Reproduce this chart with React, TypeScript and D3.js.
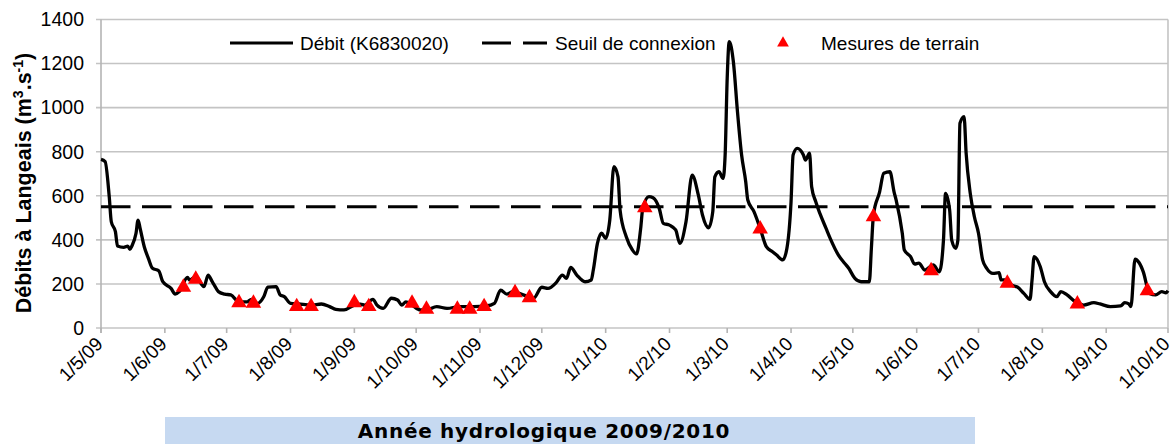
import React, { useEffect, useRef } from 'react';
import * as d3 from 'd3';

// daily discharge at Langeais
const flowDates = [
  '2009-05-01', '2009-05-03', '2009-05-05', '2009-05-06', '2009-05-08', '2009-05-09', '2009-05-12', '2009-05-14',
  '2009-05-15', '2009-05-16', '2009-05-18', '2009-05-19', '2009-05-20', '2009-05-22', '2009-05-24', '2009-05-26',
  '2009-05-29', '2009-05-31', '2009-06-04', '2009-06-06', '2009-06-08', '2009-06-12', '2009-06-13', '2009-06-16',
  '2009-06-20', '2009-06-22', '2009-06-24', '2009-06-25', '2009-06-27', '2009-06-30', '2009-07-03', '2009-07-07',
  '2009-07-11', '2009-07-13', '2009-07-16', '2009-07-19', '2009-07-21', '2009-07-25', '2009-07-27', '2009-07-29',
  '2009-08-01', '2009-08-05', '2009-08-11', '2009-08-16', '2009-08-20', '2009-08-23', '2009-08-27', '2009-09-01',
  '2009-09-04', '2009-09-06', '2009-09-10', '2009-09-12', '2009-09-15', '2009-09-19', '2009-09-22', '2009-09-24',
  '2009-09-26', '2009-09-29', '2009-10-03', '2009-10-06', '2009-10-11', '2009-10-16', '2009-10-22', '2009-10-29',
  '2009-11-04', '2009-11-08', '2009-11-11', '2009-11-14', '2009-11-17', '2009-11-22', '2009-11-27', '2009-12-01',
  '2009-12-04', '2009-12-08', '2009-12-11', '2009-12-13', '2009-12-15', '2009-12-18', '2009-12-22', '2009-12-25',
  '2009-12-26', '2009-12-28', '2009-12-30', '2010-01-01', '2010-01-03', '2010-01-05', '2010-01-07', '2010-01-08',
  '2010-01-11', '2010-01-14', '2010-01-16', '2010-01-18', '2010-01-19', '2010-01-22', '2010-01-24', '2010-01-27',
  '2010-01-29', '2010-02-01', '2010-02-04', '2010-02-06', '2010-02-09', '2010-02-12', '2010-02-15', '2010-02-17',
  '2010-02-20', '2010-02-22', '2010-02-23', '2010-02-25', '2010-02-27', '2010-02-28', '2010-03-01', '2010-03-02',
  '2010-03-04', '2010-03-06', '2010-03-08', '2010-03-10', '2010-03-11', '2010-03-14', '2010-03-17', '2010-03-20',
  '2010-03-23', '2010-03-25', '2010-03-28', '2010-03-30', '2010-04-01', '2010-04-02', '2010-04-04', '2010-04-07',
  '2010-04-08', '2010-04-10', '2010-04-11', '2010-04-13', '2010-04-15', '2010-04-18', '2010-04-20', '2010-04-24',
  '2010-04-27', '2010-04-29', '2010-05-02', '2010-05-05', '2010-05-09', '2010-05-10', '2010-05-11', '2010-05-14',
  '2010-05-16', '2010-05-19', '2010-05-21', '2010-05-22', '2010-05-25', '2010-05-26', '2010-05-29', '2010-05-31',
  '2010-06-02', '2010-06-05', '2010-06-09', '2010-06-12', '2010-06-14', '2010-06-15', '2010-06-17', '2010-06-18',
  '2010-06-20', '2010-06-21', '2010-06-22', '2010-06-24', '2010-06-25', '2010-06-27', '2010-06-29', '2010-07-01',
  '2010-07-03', '2010-07-05', '2010-07-08', '2010-07-11', '2010-07-12', '2010-07-14', '2010-07-17', '2010-07-20',
  '2010-07-23', '2010-07-26', '2010-07-27', '2010-07-28', '2010-07-31', '2010-08-02', '2010-08-05', '2010-08-08',
  '2010-08-10', '2010-08-13', '2010-08-17', '2010-08-21', '2010-08-26', '2010-08-29', '2010-09-03', '2010-09-08',
  '2010-09-10', '2010-09-12', '2010-09-13', '2010-09-15', '2010-09-17', '2010-09-19', '2010-09-22', '2010-09-25',
  '2010-09-28', '2010-09-30', '2010-10-01',
];
const flowValues = [
  765, 755, 596, 482, 437, 372, 366, 372,
  357, 372, 430, 490, 452, 369, 316, 271,
  260, 210, 180, 154, 165, 230, 218, 233,
  188, 240, 210, 195, 165, 154, 150, 119,
  119, 130, 112, 142, 185, 188, 150, 142,
  112, 109, 104, 109, 97, 85, 82, 104,
  108, 104, 130, 104, 89, 135, 127, 104,
  119, 104, 82, 82, 97, 89, 97, 97,
  100, 112, 172, 154, 165, 150, 135, 185,
  180, 206, 240, 225, 275, 240, 210, 218,
  263, 384, 430, 407, 490, 732, 686, 535,
  414, 354, 336, 452, 543, 596, 591, 543,
  475, 467, 445, 384, 482, 694, 603, 513,
  455, 528, 686, 709, 679, 785, 1133, 1300,
  1208, 981, 785, 664, 581, 528, 452, 369,
  346, 331, 309, 362, 573, 785, 815, 785,
  762, 793, 641, 573, 520, 452, 407, 331,
  294, 271, 225, 210, 210, 362, 513, 618,
  702, 709, 618, 581, 430, 354, 324, 290,
  294, 263, 286, 255, 399, 611, 535, 399,
  362, 399, 929, 959, 793, 611, 505, 430,
  309, 271, 248, 251, 218, 218, 195, 185,
  157, 130, 218, 324, 278, 210, 165, 142,
  165, 150, 119, 104, 115, 109, 97, 100,
  115, 109, 97, 312, 296, 255, 157, 150,
  165, 160, 169,
];

// field measurements
const measureDates = [
  '2009-06-10', '2009-06-16', '2009-07-07', '2009-07-14', '2009-08-04', '2009-08-11', '2009-09-01', '2009-09-08',
  '2009-09-29', '2009-10-06', '2009-10-21', '2009-10-27', '2009-11-03', '2009-11-18', '2009-11-25', '2010-01-20',
  '2010-03-17', '2010-05-11', '2010-06-08', '2010-07-15', '2010-08-18', '2010-09-21',
];
const measureValues = [
  185, 221, 115, 112, 97, 97, 115, 97,
  112, 85, 85, 85, 97, 160, 137, 546,
  449, 505, 260, 203, 109, 169,
];

const threshold = 550;
const yTicks = [0, 200, 400, 600, 800, 1000, 1200, 1400];
const monthTicks = [
  '2009-05-01', '2009-06-01', '2009-07-01', '2009-08-01', '2009-09-01', '2009-10-01', '2009-11-01', '2009-12-01',
  '2010-01-01', '2010-02-01', '2010-03-01', '2010-04-01', '2010-05-01', '2010-06-01', '2010-07-01', '2010-08-01',
  '2010-09-01', '2010-10-01',
];
const legendLabels = ['Débit (K6830020)', 'Seuil de connexion', 'Mesures de terrain'];
const periodLabel = 'Année hydrologique 2009/2010';

const App = () => {
  const svgRef = useRef(null);

  useEffect(() => {
    const width = 1175;
    const height = 444;
    const left = 101;
    const right = 1168;
    const top = 19.5;
    const bottom = 328;
    const font = '"Liberation Sans", Arial, sans-serif';

    const svg = d3.select(svgRef.current);
    svg.selectAll('*').remove();
    svg.attr('width', width).attr('height', height);

    const parse = d3.timeParse('%Y-%m-%d');
    const fmt = d3.timeFormat('%-d/%-m/%y');

    const x = d3
      .scaleTime()
      .domain([parse(monthTicks[0]), parse(monthTicks[monthTicks.length - 1])])
      .range([left, right]);
    const y = d3.scaleLinear().domain([0, 1400]).range([bottom, top]);

    const flow = flowDates.map((d, i) => ({ date: parse(d), value: flowValues[i] }));
    const measures = measureDates.map((d, i) => ({ date: parse(d), value: measureValues[i] }));

    // gridlines
    svg
      .append('g')
      .selectAll('line')
      .data(yTicks)
      .enter()
      .append('line')
      .attr('x1', left - 5)
      .attr('x2', right)
      .attr('y1', d => y(d))
      .attr('y2', d => y(d))
      .attr('stroke', '#c4c4c4')
      .attr('stroke-width', 1.6);

    // plot border
    svg
      .append('line')
      .attr('x1', right)
      .attr('x2', right)
      .attr('y1', top)
      .attr('y2', bottom)
      .attr('stroke', '#c4c4c4')
      .attr('stroke-width', 1.6);
    svg
      .append('line')
      .attr('x1', left)
      .attr('x2', left)
      .attr('y1', top)
      .attr('y2', bottom + 5)
      .attr('stroke', '#b4b4b4')
      .attr('stroke-width', 1.6);

    // x ticks
    svg
      .append('g')
      .selectAll('line')
      .data(monthTicks)
      .enter()
      .append('line')
      .attr('x1', d => x(parse(d)))
      .attr('x2', d => x(parse(d)))
      .attr('y1', bottom)
      .attr('y2', bottom + 5)
      .attr('stroke', '#b4b4b4')
      .attr('stroke-width', 1.6);

    // y tick labels
    svg
      .append('g')
      .selectAll('text')
      .data(yTicks)
      .enter()
      .append('text')
      .attr('x', 84)
      .attr('y', d => y(d))
      .attr('dy', '0.35em')
      .attr('text-anchor', 'end')
      .style('font-family', font)
      .style('font-size', '19.5px')
      .text(d => d);

    // x tick labels, rotated
    svg
      .append('g')
      .selectAll('text')
      .data(monthTicks)
      .enter()
      .append('text')
      .attr('transform', d => `translate(${x(parse(d)) + 3}, ${bottom + 17}) rotate(-45)`)
      .attr('text-anchor', 'end')
      .style('font-family', font)
      .style('font-size', '19px')
      .text(d => fmt(parse(d)));

    // threshold
    svg
      .append('line')
      .attr('x1', left)
      .attr('x2', right)
      .attr('y1', y(threshold))
      .attr('y2', y(threshold))
      .attr('stroke', '#000')
      .attr('stroke-width', 3)
      .attr('stroke-dasharray', '29.5 11.5');

    // discharge line
    const line = d3
      .line()
      .x(d => x(d.date))
      .y(d => y(d.value))
      .curve(d3.curveMonotoneX);
    svg
      .append('path')
      .datum(flow)
      .attr('d', line)
      .attr('fill', 'none')
      .attr('stroke', '#000')
      .attr('stroke-width', 3.3)
      .attr('stroke-linejoin', 'round');

    // field measurements
    const tri = d3.symbol().type(d3.symbolTriangle).size(105);
    svg
      .append('g')
      .selectAll('path')
      .data(measures)
      .enter()
      .append('path')
      .attr('d', tri)
      .attr('transform', d => `translate(${x(d.date)}, ${y(d.value)})`)
      .attr('fill', '#ff0000');

    // legend
    const legend = svg.append('g').style('font-family', font).style('font-size', '19px');
    const ly = 43;
    legend.append('line').attr('x1', 230).attr('x2', 293).attr('y1', ly).attr('y2', ly)
      .attr('stroke', '#000').attr('stroke-width', 3);
    legend.append('text').attr('x', 300).attr('y', ly).attr('dy', '0.35em').text(legendLabels[0]);
    legend.append('line').attr('x1', 482).attr('x2', 547).attr('y1', ly).attr('y2', ly)
      .attr('stroke', '#000').attr('stroke-width', 3).attr('stroke-dasharray', '29 12');
    legend.append('text').attr('x', 555).attr('y', ly).attr('dy', '0.35em').text(legendLabels[1]);
    legend.append('path').attr('d', d3.symbol().type(d3.symbolTriangle).size(60)())
      .attr('transform', `translate(783, ${ly})`).attr('fill', '#ff0000');
    legend.append('text').attr('x', 821).attr('y', ly).attr('dy', '0.35em').text(legendLabels[2]);

    // y axis title
    const title = svg
      .append('text')
      .attr('transform', `translate(31, 183) rotate(-90)`)
      .attr('text-anchor', 'middle')
      .style('font-family', font)
      .style('font-size', '21.5px')
      .style('font-weight', 'bold');
    title.append('tspan').text('Débits à Langeais (m');
    title.append('tspan').attr('baseline-shift', 'super').style('font-size', '14px').text('3');
    title.append('tspan').text('.s');
    title.append('tspan').attr('baseline-shift', 'super').style('font-size', '14px').text('-1');
    title.append('tspan').text(')');

    // hydrological year band
    svg
      .append('rect')
      .attr('x', 165)
      .attr('y', 417)
      .attr('width', 810)
      .attr('height', 27)
      .attr('fill', '#c6d9f1');
    svg
      .append('text')
      .attr('x', 544)
      .attr('y', 438)
      .attr('text-anchor', 'middle')
      .style('font-family', '"DejaVu Sans", Verdana, sans-serif')
      .style('font-size', '20px')
      .style('font-weight', 'bold')
      .style('letter-spacing', '0.7px')
      .text(periodLabel);
  }, []);

  return (
    <div style={{ position: 'absolute', left: 0, top: 0 }}>
      <svg ref={svgRef} width={1175} height={444} style={{ display: 'block', background: '#fff' }} />
    </div>
  );
};

export default App;
